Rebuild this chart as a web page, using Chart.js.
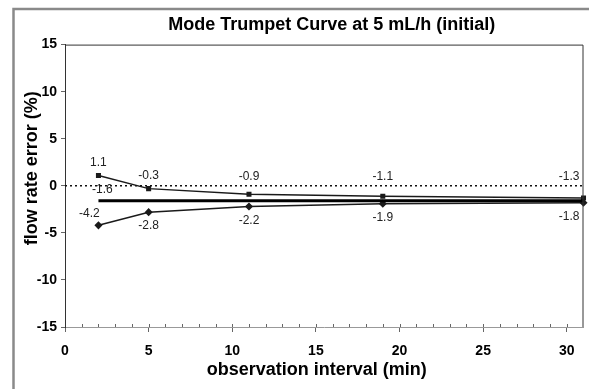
<!DOCTYPE html>
<html>
<head>
<meta charset="utf-8">
<script src="https://cdn.jsdelivr.net/npm/chart.js@4"></script>
<style>
  body { margin: 0; background: #fff; }
  canvas { display: block; }
</style>
</head>
<body>
<canvas id="myChart" width="589" height="389"></canvas>
<script>
// observation intervals (min) and trumpet curve values (%)
let intervals = [2, 5, 11, 19, 31];
let maxErr = [1.1, -0.3, -0.9, -1.1, -1.3];
let minErr = [-4.2, -2.8, -2.2, -1.9, -1.8];
let meanErr = -1.6;
let xTickValues = [0, 5, 10, 15, 20, 25, 30];
let yTickValues = [-15, -10, -5, 0, 5, 10, 15];

const fontFam = 'Arial, "Liberation Sans", sans-serif';
const toPoints = (ys) => intervals.map((x, k) => ({ x: x, y: ys[k] }));

// grey frame + chart area border on top/right
const framePlugin = {
    id: 'frame',
    beforeDraw(chart) {
        let c = chart.ctx;
        c.save();
        c.fillStyle = '#fff';
        c.fillRect(0, 0, chart.width, chart.height);
        c.strokeStyle = '#8a8a8a';
        c.lineWidth = 2.5;
        c.beginPath();
        c.moveTo(13.5, chart.height);
        c.lineTo(13.5, 9);
        c.lineTo(chart.width, 9);
        c.stroke();
        c.restore();
    },
    afterDraw(chart) {
        let c = chart.ctx;
        let a = chart.chartArea;
        let xs = chart.scales.x;
        c.save();
        c.strokeStyle = '#333';
        c.lineWidth = 1;
        c.beginPath();
        c.moveTo(a.left, a.top + 0.5);
        c.lineTo(a.right - 0.5, a.top + 0.5);
        c.lineTo(a.right - 0.5, a.bottom);
        c.stroke();
        // minor ticks every minute, inside the plot
        c.strokeStyle = '#666';
        c.beginPath();
        for (let v = 1; v <= 30; v++) {
            let px = Math.round(xs.getPixelForValue(v)) + 0.5;
            c.moveTo(px, a.bottom);
            c.lineTo(px, a.bottom - 3);
        }
        c.stroke();
        c.restore();
    }
};

// value labels next to the points
const labelPlugin = {
    id: 'valueLabels',
    afterDatasetsDraw(chart) {
        let c = chart.ctx;
        let zeroY = chart.scales.y.getPixelForValue(0);
        c.save();
        c.font = '12px ' + fontFam;
        c.fillStyle = '#222';
        c.textBaseline = 'middle';
        chart.data.datasets.forEach((ds, di) => {
            if (!ds.valueLabels) return;
            let meta = chart.getDatasetMeta(di);
            meta.data.forEach((pt, k) => {
                let val = ds.data[k].y;
                let last = k === meta.data.length - 1;
                let x = pt.x, y = pt.y;
                c.textAlign = 'center';
                if (ds.valueLabels === 'above') {
                    y = Math.min(y - 13, zeroY - 9);
                } else if (ds.valueLabels === 'below') {
                    if (k === 0) { x -= 9; y -= 12; }
                    else y += 14;
                } else if (ds.valueLabels === 'start') {
                    if (k !== 0) return;
                    x += 4; y -= 11;
                }
                if (last) { c.textAlign = 'right'; x -= 4; }
                c.fillText(val.toFixed(1), x, y);
            });
        });
        c.restore();
    }
};

const ctx = document.getElementById('myChart');

var chart = new Chart(ctx, {
    type: 'line',
    data: {
        datasets: [{
            label: 'zero',
            data: [{ x: 0, y: 0 }, { x: 31, y: 0 }],
            borderColor: '#111',
            borderWidth: 1.5,
            borderDash: [2, 3],
            pointRadius: 0
        }, {
            label: 'mean',
            data: [{ x: intervals[0], y: meanErr }, { x: intervals[intervals.length - 1], y: meanErr }],
            borderColor: '#000',
            borderWidth: 3,
            pointRadius: 0,
            valueLabels: 'start'
        }, {
            label: 'max',
            data: toPoints(maxErr),
            borderColor: '#1a1a1a',
            backgroundColor: '#1a1a1a',
            borderWidth: 1.5,
            pointStyle: 'rect',
            pointRadius: 2.5,
            valueLabels: 'above'
        }, {
            label: 'min',
            data: toPoints(minErr),
            borderColor: '#1a1a1a',
            backgroundColor: '#1a1a1a',
            borderWidth: 1.5,
            pointStyle: 'rectRot',
            pointRadius: 3,
            valueLabels: 'below'
        }]
    },
    options: {
        responsive: false,
        animation: false,
        clip: false,
        layout: { padding: { left: 12, right: 1, top: 0, bottom: 0 } },
        plugins: {
            legend: { display: false },
            tooltip: { enabled: false },
            title: {
                display: true,
                fullSize: false,
                text: '   Mode Trumpet Curve at 5 mL/h (initial)',
                color: '#000',
                font: { family: fontFam, size: 18, weight: 'bold' },
                padding: { top: 14, bottom: 9 }
            }
        },
        scales: {
            x: {
                type: 'linear',
                min: 0,
                max: 31,
                afterBuildTicks: (s) => { s.ticks = xTickValues.map(v => ({ value: v })); },
                afterFit: (s) => { s.height = 62; },
                ticks: {
                    color: '#000',
                    font: { family: fontFam, size: 14, weight: 'bold' },
                    padding: 11,
                    maxRotation: 0
                },
                grid: { drawOnChartArea: false, tickLength: 5, color: '#666' },
                border: { color: '#999', width: 1 },
                title: {
                    display: true,
                    text: 'observation interval (min)   ',
                    color: '#000',
                    font: { family: fontFam, size: 18, weight: 'bold' },
                    padding: { top: 0, bottom: 8 }
                }
            },
            y: {
                min: -15,
                max: 15,
                afterBuildTicks: (s) => { s.ticks = yTickValues.map(v => ({ value: v })); },
                afterFit: (s) => { s.width = 53; },
                ticks: {
                    color: '#000',
                    font: { family: fontFam, size: 14, weight: 'bold' },
                    padding: 4
                },
                grid: { drawOnChartArea: false, tickLength: 4, color: '#666' },
                border: { color: '#333', width: 1 },
                title: {
                    display: true,
                    text: '       flow rate error (%)',
                    color: '#000',
                    font: { family: fontFam, size: 18, weight: 'bold' },
                    padding: { top: 9, bottom: 0 }
                }
            }
        }
    },
    plugins: [framePlugin, labelPlugin]
});
</script>
</body>
</html>
